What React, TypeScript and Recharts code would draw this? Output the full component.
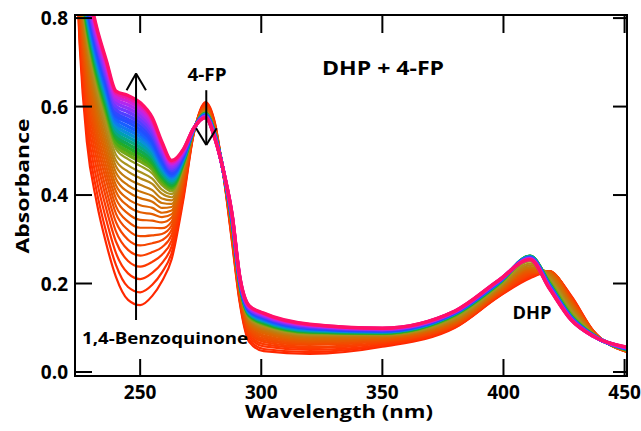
import React from 'react';
import { LineChart, Line, XAxis, YAxis, ReferenceLine } from 'recharts';

// wavelength grid (nm)
const wavelengths = [
  223, 225, 228, 232, 236, 240, 245, 250, 255, 259, 263,
  268, 272, 277, 281, 285, 288, 291, 295, 301,
  320, 350, 380, 398, 411, 419, 428, 437, 451,
];

// absorbance of the 35 scans at each wavelength, first scan first (223-263 nm)
const farUv = [
  [1.0, 1.0, 1.0, 1.0, 1.0, 1.0, 1.0, 1.0, 1.0, 1.0, 1.0, 1.0, 1.01, 1.01, 1.01, 1.01, 1.01, 1.01, 1.01, 1.01, 1.01, 1.01, 1.01, 1.01, 1.02, 1.02, 1.02, 1.02, 1.02, 1.02, 1.02, 1.02, 1.02, 1.02, 1.02],
  [0.740, 0.755, 0.770, 0.784, 0.796, 0.808, 0.818, 0.828, 0.837, 0.846, 0.853, 0.861, 0.869, 0.877, 0.884, 0.891, 0.898, 0.903, 0.907, 0.911, 0.915, 0.919, 0.923, 0.927, 0.931, 0.935, 0.939, 0.943, 0.947, 0.951, 0.956, 0.959, 0.963, 0.967, 0.970],
  [0.520, 0.543, 0.566, 0.588, 0.608, 0.626, 0.643, 0.658, 0.672, 0.685, 0.698, 0.710, 0.722, 0.734, 0.746, 0.757, 0.768, 0.775, 0.782, 0.788, 0.794, 0.800, 0.807, 0.813, 0.820, 0.826, 0.832, 0.838, 0.844, 0.851, 0.857, 0.863, 0.870, 0.875, 0.880],
  [0.385, 0.410, 0.436, 0.460, 0.482, 0.502, 0.520, 0.536, 0.551, 0.566, 0.580, 0.594, 0.607, 0.620, 0.633, 0.645, 0.657, 0.665, 0.672, 0.679, 0.686, 0.693, 0.700, 0.707, 0.714, 0.720, 0.728, 0.734, 0.741, 0.748, 0.755, 0.762, 0.769, 0.775, 0.780],
  [0.290, 0.316, 0.344, 0.369, 0.392, 0.412, 0.432, 0.449, 0.465, 0.481, 0.495, 0.509, 0.523, 0.537, 0.550, 0.563, 0.576, 0.584, 0.592, 0.599, 0.606, 0.613, 0.621, 0.628, 0.635, 0.642, 0.650, 0.657, 0.664, 0.671, 0.679, 0.686, 0.693, 0.700, 0.705],
  [0.215, 0.242, 0.269, 0.295, 0.318, 0.339, 0.358, 0.375, 0.392, 0.408, 0.422, 0.437, 0.451, 0.465, 0.478, 0.491, 0.504, 0.513, 0.520, 0.528, 0.535, 0.542, 0.550, 0.557, 0.564, 0.572, 0.579, 0.586, 0.593, 0.601, 0.609, 0.616, 0.623, 0.630, 0.635],
  [0.163, 0.192, 0.223, 0.251, 0.276, 0.299, 0.321, 0.340, 0.358, 0.375, 0.391, 0.407, 0.422, 0.437, 0.453, 0.467, 0.481, 0.491, 0.499, 0.507, 0.515, 0.523, 0.531, 0.539, 0.547, 0.555, 0.564, 0.571, 0.579, 0.588, 0.596, 0.604, 0.612, 0.619, 0.625],
  [0.151, 0.180, 0.210, 0.238, 0.263, 0.286, 0.307, 0.326, 0.344, 0.361, 0.377, 0.393, 0.408, 0.423, 0.438, 0.452, 0.466, 0.476, 0.484, 0.492, 0.500, 0.508, 0.516, 0.524, 0.532, 0.540, 0.548, 0.556, 0.564, 0.572, 0.580, 0.588, 0.596, 0.603, 0.609],
  [0.172, 0.197, 0.224, 0.249, 0.271, 0.291, 0.309, 0.326, 0.342, 0.357, 0.371, 0.385, 0.398, 0.411, 0.425, 0.437, 0.449, 0.458, 0.465, 0.472, 0.479, 0.486, 0.493, 0.500, 0.507, 0.514, 0.521, 0.528, 0.535, 0.542, 0.550, 0.557, 0.563, 0.570, 0.575],
  [0.205, 0.225, 0.246, 0.265, 0.282, 0.298, 0.312, 0.325, 0.338, 0.350, 0.360, 0.371, 0.382, 0.392, 0.403, 0.412, 0.422, 0.428, 0.434, 0.440, 0.445, 0.450, 0.456, 0.461, 0.467, 0.472, 0.478, 0.484, 0.489, 0.495, 0.500, 0.506, 0.511, 0.516, 0.520],
  [0.255, 0.269, 0.284, 0.297, 0.310, 0.321, 0.331, 0.340, 0.349, 0.357, 0.365, 0.373, 0.380, 0.388, 0.395, 0.402, 0.408, 0.413, 0.417, 0.421, 0.425, 0.429, 0.433, 0.437, 0.441, 0.444, 0.448, 0.452, 0.456, 0.460, 0.464, 0.468, 0.472, 0.475, 0.478],
];

// 268-301 nm (4-FP band and its edge)
const fpBand = [
  [0.395, 0.402, 0.409, 0.416, 0.422, 0.428, 0.433, 0.437, 0.441, 0.446, 0.449, 0.453, 0.457, 0.460, 0.464, 0.467, 0.471, 0.473, 0.475, 0.477, 0.479, 0.481, 0.483, 0.485, 0.487, 0.488, 0.490, 0.492, 0.494, 0.496, 0.498, 0.500, 0.502, 0.504, 0.505],
  [0.535, 0.536, 0.537, 0.538, 0.539, 0.539, 0.540, 0.541, 0.541, 0.542, 0.542, 0.543, 0.543, 0.544, 0.544, 0.545, 0.545, 0.546, 0.546, 0.546, 0.546, 0.547, 0.547, 0.547, 0.547, 0.548, 0.548, 0.548, 0.549, 0.549, 0.549, 0.549, 0.550, 0.550, 0.550],
  [0.610, 0.608, 0.605, 0.603, 0.601, 0.600, 0.598, 0.597, 0.595, 0.594, 0.593, 0.592, 0.590, 0.589, 0.588, 0.587, 0.586, 0.585, 0.585, 0.584, 0.583, 0.583, 0.582, 0.582, 0.581, 0.580, 0.580, 0.579, 0.578, 0.578, 0.577, 0.577, 0.576, 0.575, 0.575],
  [0.560, 0.558, 0.555, 0.553, 0.551, 0.550, 0.548, 0.547, 0.545, 0.544, 0.543, 0.542, 0.540, 0.539, 0.538, 0.537, 0.536, 0.535, 0.535, 0.534, 0.533, 0.533, 0.532, 0.532, 0.531, 0.530, 0.530, 0.529, 0.528, 0.528, 0.527, 0.527, 0.526, 0.525, 0.525],
  [0.420, 0.421, 0.423, 0.424, 0.425, 0.426, 0.427, 0.428, 0.428, 0.429, 0.430, 0.431, 0.431, 0.432, 0.433, 0.433, 0.434, 0.434, 0.435, 0.435, 0.435, 0.436, 0.436, 0.436, 0.437, 0.437, 0.437, 0.438, 0.438, 0.438, 0.439, 0.439, 0.439, 0.440, 0.440],
  [0.290, 0.294, 0.298, 0.302, 0.306, 0.309, 0.312, 0.315, 0.317, 0.320, 0.322, 0.324, 0.327, 0.329, 0.331, 0.333, 0.335, 0.336, 0.337, 0.338, 0.340, 0.341, 0.342, 0.343, 0.344, 0.345, 0.346, 0.348, 0.349, 0.350, 0.351, 0.352, 0.353, 0.354, 0.355],
  [0.160, 0.164, 0.168, 0.171, 0.175, 0.178, 0.181, 0.183, 0.185, 0.188, 0.190, 0.192, 0.194, 0.196, 0.198, 0.199, 0.201, 0.203, 0.204, 0.205, 0.206, 0.207, 0.208, 0.209, 0.210, 0.211, 0.212, 0.213, 0.214, 0.215, 0.216, 0.217, 0.218, 0.219, 0.220],
  [0.068, 0.073, 0.079, 0.084, 0.088, 0.092, 0.096, 0.099, 0.103, 0.106, 0.108, 0.111, 0.114, 0.117, 0.119, 0.122, 0.124, 0.126, 0.128, 0.129, 0.131, 0.132, 0.133, 0.135, 0.136, 0.138, 0.139, 0.141, 0.142, 0.143, 0.145, 0.146, 0.148, 0.149, 0.150],
  [0.047, 0.052, 0.058, 0.063, 0.068, 0.072, 0.076, 0.080, 0.083, 0.087, 0.089, 0.092, 0.095, 0.098, 0.101, 0.104, 0.106, 0.108, 0.110, 0.111, 0.113, 0.114, 0.116, 0.117, 0.119, 0.120, 0.122, 0.123, 0.125, 0.126, 0.128, 0.129, 0.131, 0.132, 0.133],
];

// 320-451 nm (DHP band)
const dhpBand = [
  [0.041, 0.045, 0.050, 0.054, 0.057, 0.061, 0.064, 0.067, 0.069, 0.072, 0.074, 0.076, 0.079, 0.081, 0.083, 0.085, 0.087, 0.089, 0.090, 0.091, 0.092, 0.093, 0.094, 0.096, 0.097, 0.098, 0.099, 0.100, 0.101, 0.103, 0.104, 0.105, 0.106, 0.107, 0.108],
  [0.057, 0.060, 0.062, 0.065, 0.067, 0.069, 0.071, 0.073, 0.075, 0.076, 0.078, 0.079, 0.081, 0.082, 0.083, 0.085, 0.086, 0.087, 0.088, 0.088, 0.089, 0.090, 0.091, 0.091, 0.092, 0.093, 0.093, 0.094, 0.095, 0.096, 0.096, 0.097, 0.098, 0.099, 0.099],
  [0.100, 0.101, 0.102, 0.104, 0.105, 0.106, 0.107, 0.109, 0.110, 0.112, 0.113, 0.115, 0.116, 0.118, 0.121, 0.123, 0.125, 0.128, 0.130, 0.130, 0.131, 0.132, 0.132, 0.133, 0.133, 0.134, 0.134, 0.135, 0.135, 0.136, 0.136, 0.137, 0.137, 0.138, 0.138],
  [0.170, 0.171, 0.172, 0.174, 0.175, 0.176, 0.177, 0.179, 0.180, 0.182, 0.183, 0.185, 0.186, 0.188, 0.191, 0.193, 0.195, 0.198, 0.200, 0.200, 0.201, 0.201, 0.202, 0.202, 0.203, 0.203, 0.204, 0.204, 0.205, 0.205, 0.206, 0.206, 0.207, 0.207, 0.207],
  [0.212, 0.214, 0.216, 0.218, 0.220, 0.222, 0.224, 0.226, 0.228, 0.231, 0.233, 0.235, 0.237, 0.241, 0.245, 0.250, 0.254, 0.258, 0.262, 0.262, 0.261, 0.261, 0.260, 0.260, 0.259, 0.259, 0.258, 0.258, 0.257, 0.257, 0.256, 0.256, 0.255, 0.255, 0.254],
  [0.226, 0.226, 0.227, 0.227, 0.228, 0.228, 0.227, 0.226, 0.225, 0.225, 0.224, 0.223, 0.222, 0.218, 0.215, 0.211, 0.207, 0.204, 0.200, 0.199, 0.199, 0.198, 0.197, 0.196, 0.196, 0.195, 0.194, 0.193, 0.193, 0.192, 0.191, 0.190, 0.190, 0.189, 0.188],
  [0.172, 0.171, 0.169, 0.168, 0.166, 0.165, 0.163, 0.161, 0.159, 0.156, 0.154, 0.152, 0.150, 0.146, 0.142, 0.138, 0.134, 0.130, 0.126, 0.125, 0.125, 0.124, 0.124, 0.123, 0.123, 0.122, 0.122, 0.121, 0.120, 0.120, 0.119, 0.119, 0.118, 0.118, 0.117],
  [0.094, 0.094, 0.093, 0.093, 0.092, 0.092, 0.091, 0.091, 0.090, 0.090, 0.089, 0.089, 0.088, 0.087, 0.086, 0.086, 0.085, 0.084, 0.083, 0.083, 0.083, 0.083, 0.083, 0.082, 0.082, 0.082, 0.082, 0.082, 0.082, 0.082, 0.081, 0.081, 0.081, 0.081, 0.081],
  [0.045, 0.045, 0.045, 0.046, 0.046, 0.046, 0.046, 0.047, 0.047, 0.047, 0.047, 0.048, 0.048, 0.048, 0.049, 0.049, 0.050, 0.050, 0.051, 0.051, 0.051, 0.052, 0.052, 0.052, 0.053, 0.053, 0.053, 0.054, 0.054, 0.054, 0.055, 0.055, 0.055, 0.056, 0.056],
];

const xTicks = [250, 300, 350, 400, 450];
const yTicks = [0, 0.2, 0.4, 0.6, 0.8];

// scan colours, first (red) to last (pink)
const COLORS = [
  '#ff2800', '#ff2e00', '#ff3400', '#fc3a00', '#f94000', '#f54600', '#f14c00', '#ed5200',
  '#e85800', '#e35e00', '#dd6500', '#d56c04', '#cb7408', '#c07c10', '#b58818', '#a99420',
  '#96a020', '#72a818', '#4aac18', '#22ac28', '#10a850', '#08a880', '#00a0b0', '#0890d8',
  '#1078f0', '#1860ff', '#2050ff', '#3048ff', '#5040ff', '#7038ff', '#9030f8', '#b028f0',
  '#d020d8', '#ec18a8', '#ff1068',
];

const rows = [...farUv, ...fpBand, ...dhpBand];
const data = wavelengths.map((wl, k) => {
  const row: Record<string, number> = { wl };
  rows[k].forEach((v, i) => {
    row[`s${i}`] = v;
  });
  return row;
});

const FONT = "'Open Sans', sans-serif";
const X_DOMAIN = [223.1, 451];
const Y_DOMAIN = [-0.0091, 0.807];

// layout
const W = 641;
const H = 431;
const MARGIN = { top: 15, right: 14, bottom: 0, left: 0 };
const X_AXIS_H = 55;
const Y_AXIS_W = 75;
const PLOT_LEFT = MARGIN.left + Y_AXIS_W;
const PLOT_TOP = MARGIN.top;
const PLOT_RIGHT = W - MARGIN.right;
const PLOT_BOTTOM = H - MARGIN.bottom - X_AXIS_H;

// bottom tick + its mirror on the top frame
const BottomTick = ({ x, y, payload }: any) => (
  <g>
    <line x1={x} y1={y} x2={x} y2={y - 17} stroke="#000" strokeWidth={2} />
    <line x1={x} y1={PLOT_TOP} x2={x} y2={PLOT_TOP + 18} stroke="#000" strokeWidth={2} />
    <text x={x} y={y + 23} textAnchor="middle" fontFamily={FONT} fontWeight={700} fontSize={19} fill="#000">
      {payload.value}
    </text>
  </g>
);

// left tick + its mirror on the right frame
const LeftTick = ({ x, y, payload }: any) => (
  <g>
    <line x1={x} y1={y} x2={x + 17} y2={y} stroke="#000" strokeWidth={2} />
    <line x1={PLOT_RIGHT} y1={y} x2={PLOT_RIGHT - 14} y2={y} stroke="#000" strokeWidth={2} />
    <text x={x - 7} y={y + 7} textAnchor="end" fontFamily={FONT} fontWeight={700} fontSize={19} fill="#000">
      {Number(payload.value).toFixed(1)}
    </text>
  </g>
);

const frame = { stroke: '#000', strokeWidth: 2 };

export default function App() {
  return (
    <div style={{ position: 'absolute', left: 0, top: 0, width: W, height: H, background: '#fff' }}>
      <LineChart width={W} height={H} data={data} margin={MARGIN}>
        <XAxis
          dataKey="wl"
          type="number"
          domain={X_DOMAIN}
          ticks={xTicks}
          allowDataOverflow
          height={X_AXIS_H}
          tickSize={0}
          tickMargin={0}
          tickLine={false}
          axisLine={frame}
          tick={<BottomTick />}
        />
        <YAxis
          type="number"
          domain={Y_DOMAIN}
          ticks={yTicks}
          allowDataOverflow
          width={Y_AXIS_W}
          tickSize={0}
          tickMargin={0}
          tickLine={false}
          axisLine={frame}
          tick={<LeftTick />}
        />
        {COLORS.map((c, i) => (
          <Line
            key={i}
            dataKey={`s${i}`}
            type="monotone"
            stroke={c}
            strokeWidth={i < 17 ? 2.2 : 3.4}
            dot={false}
            activeDot={false}
            isAnimationActive={false}
          />
        ))}
        {/* rising 1,4-benzoquinone band */}
        <ReferenceLine segment={[{ x: 248.3, y: 0.1175 }, { x: 248.3, y: 0.675 }]} {...frame} />
        <ReferenceLine segment={[{ x: 244.4, y: 0.637 }, { x: 248.3, y: 0.675 }]} {...frame} />
        <ReferenceLine segment={[{ x: 252.4, y: 0.637 }, { x: 248.3, y: 0.675 }]} {...frame} />
        {/* falling 4-FP band */}
        <ReferenceLine segment={[{ x: 277.3, y: 0.637 }, { x: 277.3, y: 0.513 }]} {...frame} />
        <ReferenceLine segment={[{ x: 273.1, y: 0.551 }, { x: 277.3, y: 0.513 }]} {...frame} />
        <ReferenceLine segment={[{ x: 281.6, y: 0.551 }, { x: 277.3, y: 0.513 }]} {...frame} />
      </LineChart>
      {/* plot frame */}
      <div
        style={{
          position: 'absolute',
          left: PLOT_LEFT - 1,
          top: PLOT_TOP - 1,
          width: PLOT_RIGHT - PLOT_LEFT + 2,
          height: PLOT_BOTTOM - PLOT_TOP + 2,
          border: '2px solid #000',
          boxSizing: 'border-box',
          pointerEvents: 'none',
        }}
      />
      <svg
        width={W}
        height={H}
        style={{ position: 'absolute', left: 0, top: 0, pointerEvents: 'none' }}
        fontFamily={FONT}
        fontWeight={700}
        fill="#000"
      >
        <text x={383} y={75} textAnchor="middle" fontSize={20} textLength={122} lengthAdjust="spacingAndGlyphs">DHP + 4-FP</text>
        <text x={207} y={81} textAnchor="middle" fontSize={18} textLength={39} lengthAdjust="spacingAndGlyphs">4-FP</text>
        <text x={532} y={319} textAnchor="middle" fontSize={18} textLength={39} lengthAdjust="spacingAndGlyphs">DHP</text>
        <text x={165} y={344} textAnchor="middle" fontSize={16.5} textLength={166} lengthAdjust="spacingAndGlyphs">1,4-Benzoquinone</text>
        <text x={339} y={418} textAnchor="middle" fontSize={17} textLength={188} lengthAdjust="spacingAndGlyphs">Wavelength (nm)</text>
        <text transform="translate(29,186) rotate(-90)" textAnchor="middle" fontSize={18.5} textLength={135} lengthAdjust="spacingAndGlyphs">Absorbance</text>
      </svg>
    </div>
  );
}
